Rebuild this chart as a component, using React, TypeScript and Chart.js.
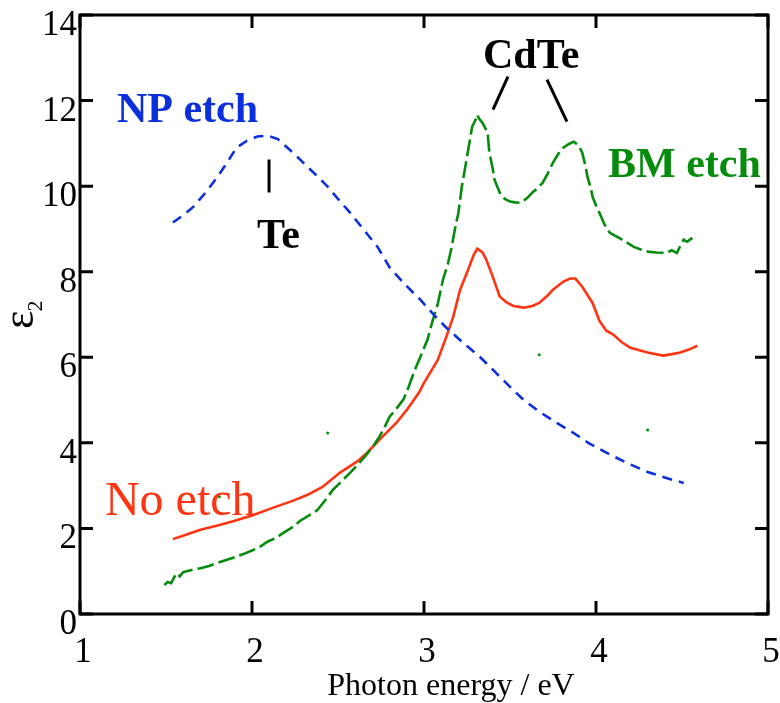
import { useEffect, useRef } from "react";
import { Chart, registerables } from "chart.js";

Chart.register(...registerables);

// NP etch (blue, dashed)
const npEnergy = [1.54, 1.6, 1.66, 1.73, 1.8, 1.86, 1.91, 1.97, 2.03, 2.09, 2.15, 2.2, 2.26, 2.32, 2.38, 2.44, 2.5, 2.57, 2.65, 2.73, 2.8, 2.89, 2.98, 3.06, 3.13, 3.23, 3.33, 3.42, 3.5, 3.58, 3.67, 3.77, 3.87, 3.96, 4.06, 4.18, 4.3, 4.4, 4.51];
const npEps2 = [9.15, 9.32, 9.52, 9.85, 10.22, 10.58, 10.9, 11.06, 11.16, 11.18, 11.1, 10.92, 10.7, 10.46, 10.23, 9.99, 9.7, 9.38, 8.98, 8.58, 8.1, 7.7, 7.34, 6.98, 6.69, 6.33, 5.99, 5.63, 5.31, 5.0, 4.73, 4.47, 4.23, 3.99, 3.77, 3.53, 3.32, 3.19, 3.06];

// No etch (red, solid)
const noEnergy = [1.54, 1.62, 1.7, 1.8, 1.89, 2.0, 2.12, 2.24, 2.32, 2.41, 2.51, 2.61, 2.67, 2.74, 2.84, 2.9, 2.97, 3.0, 3.08, 3.13, 3.17, 3.21, 3.25, 3.29, 3.31, 3.34, 3.36, 3.4, 3.44, 3.48, 3.52, 3.58, 3.63, 3.67, 3.72, 3.75, 3.81, 3.85, 3.88, 3.92, 3.98, 4.02, 4.06, 4.1, 4.15, 4.2, 4.3, 4.39, 4.45, 4.49, 4.54, 4.59];
const noEps2 = [1.75, 1.86, 1.97, 2.07, 2.17, 2.3, 2.48, 2.65, 2.78, 2.97, 3.3, 3.56, 3.77, 4.07, 4.47, 4.77, 5.17, 5.4, 5.94, 6.48, 6.95, 7.58, 7.98, 8.4, 8.54, 8.45, 8.3, 7.88, 7.42, 7.28, 7.2, 7.16, 7.2, 7.27, 7.45, 7.58, 7.77, 7.84, 7.84, 7.65, 7.27, 6.85, 6.62, 6.53, 6.35, 6.22, 6.11, 6.04, 6.08, 6.11, 6.18, 6.27];

// BM etch (green, dashed)
const bmEnergy = [1.49, 1.51, 1.53, 1.54, 1.56, 1.58, 1.6, 1.62, 1.65, 1.7, 1.75, 1.8, 1.85, 1.9, 1.95, 2.01, 2.05, 2.09, 2.14, 2.18, 2.24, 2.28, 2.33, 2.38, 2.42, 2.47, 2.52, 2.57, 2.61, 2.65, 2.7, 2.74, 2.77, 2.8, 2.84, 2.88, 2.91, 2.94, 2.98, 3.02, 3.05, 3.08, 3.11, 3.14, 3.16, 3.18, 3.2, 3.22, 3.24, 3.26, 3.28, 3.3, 3.31, 3.32, 3.34, 3.37, 3.38, 3.4, 3.41, 3.44, 3.47, 3.5, 3.53, 3.56, 3.6, 3.63, 3.66, 3.69, 3.72, 3.75, 3.78, 3.81, 3.84, 3.87, 3.9, 3.92, 3.94, 3.95, 3.97, 3.98, 4.0, 4.02, 4.05, 4.08, 4.13, 4.18, 4.22, 4.26, 4.3, 4.35, 4.41, 4.44, 4.47, 4.49, 4.51, 4.53, 4.56];
const bmEps2 = [0.68, 0.75, 0.72, 0.8, 0.95, 0.88, 0.98, 1.0, 1.03, 1.07, 1.12, 1.2, 1.26, 1.33, 1.4, 1.5, 1.58, 1.69, 1.78, 1.89, 2.04, 2.18, 2.3, 2.43, 2.63, 2.9, 3.1, 3.3, 3.47, 3.65, 3.9, 4.14, 4.36, 4.61, 4.8, 5.01, 5.3, 5.64, 6.02, 6.41, 6.85, 7.25, 7.81, 8.2, 8.56, 9.0, 9.38, 9.99, 10.45, 10.92, 11.39, 11.55, 11.67, 11.58, 11.48, 11.25, 10.78, 10.4, 10.15, 9.85, 9.7, 9.64, 9.62, 9.61, 9.72, 9.85, 9.95, 10.08, 10.3, 10.55, 10.75, 10.9, 10.98, 11.04, 10.95, 10.78, 10.45, 10.22, 9.95, 9.75, 9.55, 9.38, 9.1, 8.91, 8.8, 8.68, 8.58, 8.52, 8.47, 8.45, 8.44, 8.5, 8.44, 8.6, 8.75, 8.7, 8.79];

// isolated BM etch samples
const bmDotEnergy = [1.81, 2.44, 3.67, 4.3];
const bmDotEps2 = [2.74, 4.23, 6.06, 4.3];

const xTicks = [1, 2, 3, 4, 5];
const yTicks = [0, 2, 4, 6, 8, 10, 12, 14];

const BLUE = "#0b2fdc";
const RED = "#ff3412";
const GREEN = "#068c0c";
const SERIF = '"Liberation Serif", "Times New Roman", serif';

const pairs = (xs: number[], ys: number[]) => xs.map((x, i) => ({ x, y: ys[i] }));

const framePlugin = {
  id: "frame",
  afterDatasetsDraw(chart: any) {
    const { ctx, chartArea: a, scales } = chart;
    const x = scales.x;
    const y = scales.y;
    const X = (v: number) => x.getPixelForValue(v);
    const Y = (v: number) => y.getPixelForValue(v);
    ctx.save();

    // box and inward ticks
    ctx.strokeStyle = "#000";
    ctx.lineWidth = 3;
    ctx.strokeRect(a.left, a.top, a.right - a.left, a.bottom - a.top);
    const len = 13;
    ctx.beginPath();
    for (const v of xTicks) {
      const px = X(v);
      ctx.moveTo(px, a.bottom);
      ctx.lineTo(px, a.bottom - len);
      ctx.moveTo(px, a.top);
      ctx.lineTo(px, a.top + len);
    }
    for (const v of yTicks) {
      const py = Y(v);
      ctx.moveTo(a.left, py);
      ctx.lineTo(a.left + len, py);
      ctx.moveTo(a.right, py);
      ctx.lineTo(a.right - len, py);
    }
    ctx.stroke();

    // tick labels
    ctx.fillStyle = "#000";
    ctx.font = `35px ${SERIF}`;
    ctx.textBaseline = "alphabetic";
    ctx.textAlign = "center";
    for (const v of xTicks) ctx.fillText(String(v), X(v) + 3, a.bottom + 48);
    ctx.textAlign = "right";
    for (const v of yTicks) ctx.fillText(String(v), a.left - 3, Y(v) + 20);

    // axis titles
    ctx.textAlign = "center";
    ctx.font = `32px ${SERIF}`;
    ctx.fillText("Photon energy / eV", 451, 695);

    ctx.save();
    ctx.translate(33, 329);
    ctx.rotate(-Math.PI / 2);
    ctx.textAlign = "left";
    ctx.font = `44px ${SERIF}`;
    ctx.fillText("ε", 0, 0);
    const w = ctx.measureText("ε").width;
    ctx.font = `22px ${SERIF}`;
    ctx.fillText("2", w - 1, 9);
    ctx.restore();

    // peak markers
    ctx.lineWidth = 3;
    ctx.beginPath();
    ctx.moveTo(X(2.099), Y(10.62));
    ctx.lineTo(X(2.099), Y(9.85));
    ctx.moveTo(X(3.488), Y(12.56));
    ctx.lineTo(X(3.401), Y(11.79));
    ctx.moveTo(X(3.715), Y(12.49));
    ctx.lineTo(X(3.831), Y(11.51));
    ctx.stroke();

    // curve and peak labels
    ctx.textAlign = "left";
    ctx.font = `bold 42px ${SERIF}`;
    ctx.fillStyle = BLUE;
    ctx.fillText("NP etch", X(1.215), Y(11.51));
    ctx.fillStyle = "#000";
    ctx.fillText("Te", X(2.029), Y(8.56));
    ctx.fillText("CdTe", X(3.343), Y(12.77));
    ctx.fillStyle = GREEN;
    ctx.fillText("BM etch", X(4.07), Y(10.22));
    ctx.font = `48px ${SERIF}`;
    ctx.fillStyle = RED;
    ctx.fillText("No etch", X(1.145), Y(2.316));

    ctx.restore();
  },
};

export default function App() {
  const ref = useRef<HTMLCanvasElement | null>(null);

  useEffect(() => {
    if (!ref.current) return;
    const chart = new Chart(ref.current, {
      type: "line",
      data: {
        datasets: [
          {
            label: "NP etch",
            data: pairs(npEnergy, npEps2),
            borderColor: BLUE,
            borderWidth: 2.6,
            borderDash: [10, 7],
            pointRadius: 0,
            tension: 0,
          },
          {
            label: "BM etch",
            data: pairs(bmEnergy, bmEps2),
            borderColor: GREEN,
            borderWidth: 2.6,
            borderDash: [17, 5],
            pointRadius: 0,
            tension: 0,
          },
          {
            label: "No etch",
            data: pairs(noEnergy, noEps2),
            borderColor: RED,
            borderWidth: 2.6,
            pointRadius: 0,
            tension: 0,
          },
          {
            label: "BM etch samples",
            data: pairs(bmDotEnergy, bmDotEps2),
            showLine: false,
            pointRadius: 1.5,
            pointBorderWidth: 0,
            pointBackgroundColor: GREEN,
          },
        ],
      },
      options: {
        responsive: false,
        animation: false,
        devicePixelRatio: 1,
        layout: { padding: { left: 80, right: 12, top: 15, bottom: 89 } },
        scales: {
          x: { type: "linear", min: 1, max: 5, display: false },
          y: { type: "linear", min: 0, max: 14, display: false },
        },
        plugins: { legend: { display: false }, tooltip: { enabled: false } },
      },
      plugins: [framePlugin],
    });
    return () => chart.destroy();
  }, []);

  return (
    <div style={{ position: "absolute", left: 0, top: 0, width: 780, height: 703, background: "#fff" }}>
      <canvas ref={ref} width={780} height={703} />
    </div>
  );
}
